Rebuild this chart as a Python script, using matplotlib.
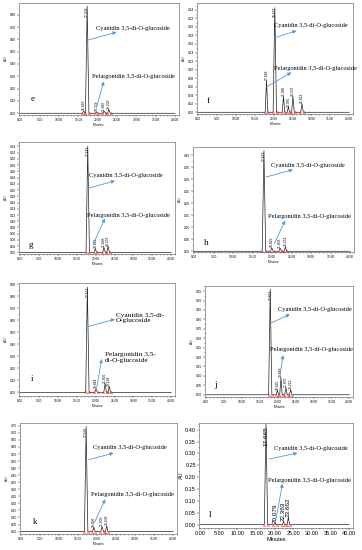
import matplotlib
matplotlib.use("Agg")
import matplotlib.pyplot as plt
from matplotlib.ticker import MultipleLocator, FormatStrFormatter

# retention time (min), peak height (AU), peak label -- one set per panel
e_rt = [16.4, 17.3, 19.7, 21.7, 22.9]
e_h = [0.018, 0.870, 0.010, 0.016, 0.030]
e_lbl = ["16.589", "17.309", "19.729", "21.887", "23.209"]

f_rt = [18.1, 20.3, 22.6, 23.9, 25.1, 27.5]
f_h = [0.075, 0.245, 0.037, 0.012, 0.037, 0.020]
f_lbl = ["17.568", "19.507", "21.986", "22.985", "24.307", "26.812"]

g_rt = [17.9, 19.9, 22.2, 23.3]
g_h = [0.340, 0.012, 0.016, 0.020]
g_lbl = ["17.643", "19.822", "21.898", "23.232"]

h_rt = [17.9, 19.9, 22.1, 23.4]
h_h = [0.420, 0.015, 0.012, 0.018]
h_lbl = ["17.659", "19.829", "21.903", "23.231"]

i_rt = [17.8, 20.1, 22.5, 23.6]
i_h = [0.875, 0.030, 0.075, 0.050]
i_lbl = ["17.654", "19.844", "21.906", "23.198"]

j_rt = [17.9, 19.9, 20.9, 22.3, 23.6]
j_h = [0.560, 0.023, 0.090, 0.037, 0.027]
j_lbl = ["17.661", "19.835", "20.889", "21.907", "23.212"]

k_rt = [17.1, 19.1, 21.3, 22.5]
k_h = [0.745, 0.030, 0.035, 0.040]
k_lbl = ["17.656", "19.836", "21.909", "23.208"]

l_rt = [17.665, 20.079, 22.363, 23.662]
l_h = [0.425, 0.006, 0.012, 0.030]
l_lbl = ["17.665", "20.079", "22.363", "23.662"]

CYAN = "Cyanidin 3,5-di-O-glucoside"
PEL = "Pelargonidin 3,5-di-O-glucoside"
ARROW = "#4f9be0"
SERIF = "Liberation Serif"
SANS = "Liberation Sans"

fig = plt.figure(figsize=(3.62, 5.5), dpi=100)


def add_ax(x0, x1, y0, y1):
    # pixel box -> figure fraction
    return fig.add_axes([x0 / 362, 1 - y1 / 550, (x1 - x0) / 362, (y1 - y0) / 550])


def panel(ax, rt, h, lbl, ylim, ystep, letter, cyan, pel, letter_pos,
          tick_fs=2.3, lbl_fs=2.4, txt_fs=4.6, cyan_txt=CYAN, pel_txt=PEL,
          cyan_ha="center", pel_ha="center"):
    # trace built from the peak table
    xs, ys = [0.0], [0.0]
    for i, (t, v) in enumerate(zip(rt, h)):
        w = 0.35 if v < max(h) else 0.45
        xs += [t - w, t, t + w]
        ys += [0.0, v, 0.0]
    xs.append(40.0)
    ys.append(0.0)
    ax.plot(xs, ys, color="#222222", lw=0.5)

    # integration marks
    for t, v in zip(rt, h):
        ax.plot([t - 0.45, t + 0.45], [0.0, 0.0], ls="none", marker="^",
                ms=1.6, mfc="none", mec="#ff3030", mew=0.35)

    top = ylim[1]
    span = ylim[1] - ylim[0]
    for t, v, s in zip(rt, h, lbl):
        if v + 0.28 * span > top:
            ax.text(t, top - 0.03 * span, s, rotation=90, ha="center", va="top",
                    fontsize=lbl_fs, family=SANS)
        else:
            ax.text(t, v + 0.005 * span, s, rotation=90, ha="center", va="bottom",
                    fontsize=lbl_fs, family=SANS)

    ax.set_xlim(-0.3, 41.0)
    ax.set_ylim(*ylim)
    ax.xaxis.set_major_locator(MultipleLocator(5))
    ax.xaxis.set_minor_locator(MultipleLocator(1))
    ax.yaxis.set_major_locator(MultipleLocator(ystep))
    ax.yaxis.set_minor_locator(MultipleLocator(ystep / 2))
    ax.xaxis.set_major_formatter(FormatStrFormatter("%.2f"))
    ax.yaxis.set_major_formatter(FormatStrFormatter("%.2f"))
    ax.tick_params(labelsize=tick_fs, length=1.2, width=0.3, pad=1)
    ax.tick_params(which="minor", length=0.7, width=0.25)
    for lab in ax.get_xticklabels() + ax.get_yticklabels():
        lab.set_family(SANS)
    ax.set_xlabel("Minutes", fontsize=tick_fs, family=SANS, labelpad=0.5)
    ax.set_ylabel("AU", fontsize=tick_fs, family=SANS, labelpad=1)
    for sp in ax.spines.values():
        sp.set_linewidth(0.4)
        sp.set_color("#555555")

    ap = dict(arrowstyle="-|>", color=ARROW, lw=0.6, mutation_scale=5,
              shrinkA=0, shrinkB=0)
    ax.annotate("", xy=cyan[1], xytext=cyan[0], xycoords="axes fraction",
                textcoords="axes fraction", arrowprops=ap)
    ax.annotate("", xy=pel[1], xytext=pel[0], xycoords="axes fraction",
                textcoords="axes fraction", arrowprops=ap)
    ax.text(cyan[2][0], cyan[2][1], cyan_txt, transform=ax.transAxes,
            ha=cyan_ha, va="center", fontsize=txt_fs, family=SERIF)
    ax.text(pel[2][0], pel[2][1], pel_txt, transform=ax.transAxes,
            ha=pel_ha, va="center", fontsize=txt_fs, family=SERIF)
    ax.text(letter_pos[0], letter_pos[1], letter, transform=ax.transAxes,
            ha="left", va="center", fontsize=6.5, family=SERIF)


# (tail, head, text position) in axes fraction
ax = add_ax(19, 179, 3, 115)
panel(ax, e_rt, e_h, e_lbl, (-0.014, 0.895), 0.10, "e",
      ((0.433, 0.67), (0.61, 0.74), (0.71, 0.776)),
      ((0.485, 0.07), (0.53, 0.30), (0.715, 0.343)), (0.07, 0.14))

ax = add_ax(197, 353, 3, 114)
panel(ax, f_rt, f_h, f_lbl, (-0.004, 0.256), 0.02, "f",
      ((0.494, 0.685), (0.637, 0.75), (0.733, 0.80)),
      ((0.444, 0.243), (0.605, 0.375), (0.759, 0.414)), (0.06, 0.114))

ax = add_ax(19, 175, 142, 254)
panel(ax, g_rt, g_h, g_lbl, (-0.005, 0.354), 0.02, "g",
      ((0.438, 0.585), (0.615, 0.653), (0.686, 0.697)),
      ((0.476, 0.089), (0.551, 0.318), (0.703, 0.347)), (0.06, 0.08))

ax = add_ax(193, 354, 147, 252)
panel(ax, h_rt, h_h, h_lbl, (-0.003, 0.435), 0.05, "h",
      ((0.453, 0.714), (0.62, 0.784), (0.713, 0.825)),
      ((0.505, 0.08), (0.572, 0.30), (0.723, 0.34)), (0.07, 0.086))

ax = add_ax(19, 175, 283, 396)
panel(ax, i_rt, i_h, i_lbl, (-0.03, 0.91), 0.10, "i",
      ((0.444, 0.615), (0.615, 0.68), (0.622, 0.69)),
      ((0.498, 0.068), (0.53, 0.328), (0.551, 0.34)), (0.075, 0.151),
      txt_fs=5.2, cyan_txt="Cyanidin 3,5-di-\nO-glucoside",
      pel_txt="Pelargonidin 3,5-\ndi-O-glucoside", cyan_ha="left", pel_ha="left")

ax = add_ax(205, 353, 286, 397)
panel(ax, j_rt, j_h, j_lbl, (-0.012, 0.577), 0.05, "j",
      ((0.439, 0.663), (0.574, 0.744), (0.743, 0.792)),
      ((0.507, 0.196), (0.527, 0.377), (0.716, 0.43)), (0.06, 0.11))

ax = add_ax(20, 177, 423, 534)
panel(ax, k_rt, k_h, k_lbl, (-0.017, 0.77), 0.05, "k",
      ((0.436, 0.669), (0.596, 0.729), (0.702, 0.78)),
      ((0.474, 0.102), (0.543, 0.313), (0.719, 0.358)), (0.08, 0.11))

ax = add_ax(199, 353, 423, 528)
panel(ax, l_rt, l_h, l_lbl, (-0.014, 0.428), 0.05, "l",
      ((0.456, 0.657), (0.64, 0.714), (0.727, 0.756)),
      ((0.499, 0.079), (0.542, 0.422), (0.72, 0.454)), (0.065, 0.127),
      tick_fs=4.0, lbl_fs=4.6)

fig.savefig("out.png", dpi=100)
